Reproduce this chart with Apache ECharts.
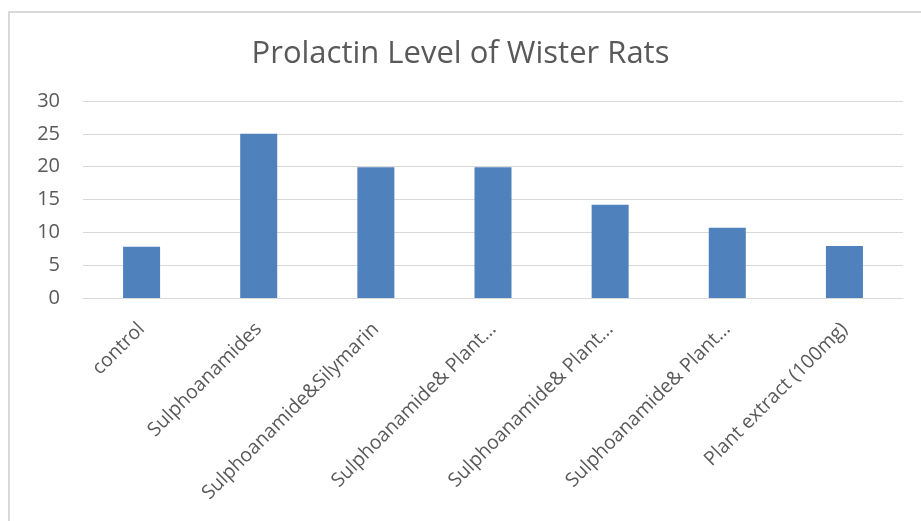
<!DOCTYPE html>
<html>
<head>
<meta charset="utf-8">
<script src="https://cdn.jsdelivr.net/npm/echarts@6/dist/echarts.min.js"></script>
<style>
html,body{margin:0;padding:0;background:#fff;}
#chart{width:921px;height:521px;}
</style>
</head>
<body>
<div id="chart"></div>
<script>
var categories = ["control", "Sulphoanamides", "Sulphoanamide&Silymarin", "Sulphoanamide& Plant…", "Sulphoanamide& Plant…", "Sulphoanamide& Plant…", "Plant extract (100mg)"];
var values = [7.8, 25, 19.9, 19.9, 14.2, 10.7, 7.9];
var yTicks = [0, 5, 10, 15, 20, 25, 30];
var titleText = "Prolactin Level of Wister Rats";

var chart = echarts.init(document.getElementById('chart'));
chart.setOption({
  backgroundColor: '#fff',
  animation: false,
  title: {
    text: titleText,
    left: 'center',
    top: 34,
    textStyle: { fontFamily: 'Open Sans', fontSize: 31, fontWeight: 'normal', color: '#595959' }
  },
  graphic: [{
    type: 'rect',
    shape: { x: 9, y: 12, width: 940, height: 540 },
    style: { fill: 'none', stroke: '#d9d9d9', lineWidth: 2 },
    silent: true
  }],
  grid: { left: 83, right: 18, top: 101, bottom: 223 },
  xAxis: {
    type: 'category',
    data: categories,
    axisLine: { show: true, lineStyle: { color: '#d9d9d9', width: 1 } },
    axisTick: { show: false },
    axisLabel: {
      rotate: 45,
      interval: 0,
      margin: 28,
      fontFamily: 'Open Sans',
      fontSize: 19.5,
      color: '#595959'
    }
  },
  yAxis: {
    type: 'value',
    min: yTicks[0],
    max: yTicks[yTicks.length - 1],
    interval: 5,
    axisLine: { show: false },
    axisTick: { show: false },
    splitLine: { lineStyle: { color: '#d9d9d9', width: 1 } },
    axisLabel: { fontFamily: 'Open Sans', fontSize: 20, color: '#595959', margin: 23 }
  },
  series: [{
    type: 'bar',
    data: values,
    barWidth: '31.6%',
    itemStyle: { color: '#4f81bd' }
  }]
});
</script>
</body>
</html>
